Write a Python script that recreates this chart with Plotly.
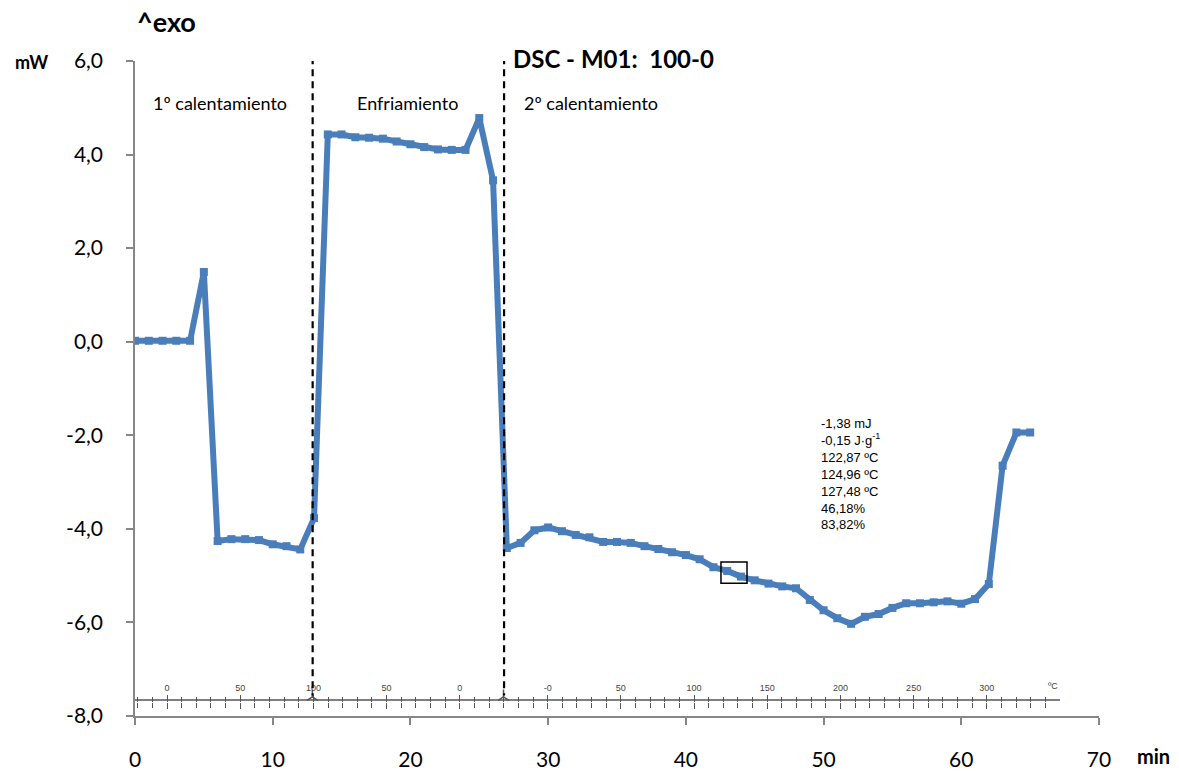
import plotly.graph_objects as go

#%% data
minutes = list(range(0, 66))
heat_flow = [0.02, 0.02, 0.02, 0.02, 0.02, 1.49, -4.26, -4.22, -4.22, -4.24,
             -4.33, -4.37, -4.44, -3.77, 4.43, 4.43, 4.37, 4.36, 4.34, 4.28,
             4.22, 4.16, 4.11, 4.10, 4.10, 4.78, 3.45, -4.41, -4.30, -4.03,
             -3.97, -4.05, -4.13, -4.18, -4.28, -4.28, -4.30, -4.37, -4.43, -4.50,
             -4.56, -4.65, -4.82, -4.90, -5.02, -5.10, -5.17, -5.23, -5.27, -5.52,
             -5.74, -5.91, -6.03, -5.88, -5.82, -5.69, -5.59, -5.59, -5.57, -5.55,
             -5.60, -5.50, -5.18, -2.65, -1.94, -1.94]

y_ticks = [6, 4, 2, 0, -2, -4, -6, -8]
y_ticktext = ['6,0', '4,0', '2,0', '0,0', '-2,0', '-4,0', '-6,0', '-8,0']
x_ticks = [0, 10, 20, 30, 40, 50, 60, 70]

# phase boundaries (min) and phase labels
phase_bounds = [12.9, 26.8]
phase_labels = ['1º calentamiento', 'Enfriamiento', '2º calentamiento']
phase_label_x = [6.2, 19.8, 33.1]

# temperature ruler: one step = 10 ºC
ruler_steps = [0, 5, 10, 15, 20, 26, 31, 36, 41, 46, 51, 56]
ruler_text = ['0', '50', '100', '50', '0', '-0', '50', '100', '150', '200', '250', '300']
ruler_minor_steps = list(range(-2, 61))

# integration results
results = ['-1,38 mJ', '-0,15 J·g<sup>-1</sup>', '122,87 ºC', '124,96 ºC',
           '127,48 ºC', '46,18%', '83,82%']
peak_box = dict(x0=42.55, x1=44.44, y0=-4.71, y1=-5.16)

#%% figure
W, H = 1179, 771
ML, MR, MT, MB = 135, 80, 61, 55
PW, PH = W - ML - MR, H - MT - MB
BLUE = '#4A7EBB'
AX = '#878787'
RULER = '#555555'

def paper_x(px):
    return (px - ML) / PW

def paper_y(py):
    return (H - MB - py) / PH

# ruler step <-> pixel: step 0 at 167 px, 14.64 px per step
ruler_range = [(ML - 167) / 14.64, (W - MR - 167) / 14.64]
ruler_y = -7.66

fig = go.Figure()
fig.add_trace(go.Scatter(
    x=minutes, y=heat_flow, mode='lines+markers',
    line=dict(color=BLUE, width=6),
    marker=dict(symbol='square', size=8, color=BLUE),
    showlegend=False, hoverinfo='skip',
))

bound_steps = [(ML + 13.75 * b - 167) / 14.64 for b in phase_bounds]
fig.add_trace(go.Scatter(
    x=bound_steps, y=[ruler_y + 0.07] * len(bound_steps), xaxis='x2', yaxis='y',
    mode='markers', marker=dict(symbol='y-up', size=9, color=RULER,
                                line=dict(color=RULER, width=1.5)),
    showlegend=False, hoverinfo='skip',
))
fig.add_trace(go.Scatter(
    x=[0], y=[ruler_y], xaxis='x3', yaxis='y', mode='markers',
    marker=dict(opacity=0), showlegend=False, hoverinfo='skip',
))

for b in phase_bounds:
    fig.add_shape(type='line', xref='x', yref='y', x0=b, x1=b, y0=6.08, y1=ruler_y + 0.1,
                  line=dict(color='black', width=2.2, dash='7px,5px'))
fig.add_shape(type='rect', xref='x', yref='y', line=dict(color='black', width=1.5),
              **peak_box)
# ruler baseline
fig.add_shape(type='line', xref='x2', yref='y', x0=ruler_range[0], x1=61, y0=ruler_y, y1=ruler_y,
              line=dict(color=RULER, width=1.5))

for lbl, lx in zip(phase_labels, phase_label_x):
    fig.add_annotation(x=lx, y=5.1, text=lbl, showarrow=False,
                       font=dict(family='Lato', size=18, color='black'))

def paper_text(px, py, text, size, family='Lato', color='black', xanchor='center'):
    fig.add_annotation(xref='paper', yref='paper', x=paper_x(px), y=paper_y(py),
                       text=text, showarrow=False, xanchor=xanchor, yanchor='middle',
                       font=dict(family=family, size=size, color=color))

paper_text(166, 22, '<b>^exo</b>', 27)
paper_text(511, 58, '<b>DSC - M01:  100-0</b>', 24, xanchor='left')
paper_text(31, 62, '<b>mW</b>', 18)
paper_text(1153, 756, '<b>min</b>', 20)
paper_text(1053, 686, 'ºC', 9, family='Liberation Sans', color='#444')

fig.add_annotation(x=49.7, y=-1.55, text='<br>'.join(results), showarrow=False,
                   xanchor='left', yanchor='top', align='left',
                   font=dict(family='Liberation Sans', size=13, color='black'))

ruler_pos = paper_y(702)
ruler_minor = dict(tickmode='array', tickvals=ruler_minor_steps, ticklen=5,
                   tickcolor=RULER, tickwidth=1.2)

fig.update_layout(
    width=W, height=H, margin=dict(l=ML, r=MR, t=MT, b=MB, autoexpand=False),
    plot_bgcolor='white', paper_bgcolor='white',
    font=dict(family='Lato', color='black'),
    xaxis=dict(range=[0, 70], tickvals=x_ticks, automargin=False,
               showgrid=False, zeroline=False, showline=True, linecolor=AX, linewidth=1.5,
               ticks='outside', ticklen=7, tickcolor=AX, tickwidth=1.5,
               tickfont=dict(size=21, color='black'), ticklabelstandoff=17),
    yaxis=dict(range=[-8, 6], tickvals=y_ticks, ticktext=y_ticktext, automargin=False,
               showgrid=False, zeroline=False, showline=True, linecolor=AX, linewidth=1.5,
               ticks='outside', ticklen=7, tickcolor=AX, tickwidth=1.5,
               tickfont=dict(size=21, color='black'), ticklabelstandoff=19),
    xaxis2=dict(overlaying='x', range=ruler_range, anchor='free', position=ruler_pos,
                side='top', tickvals=ruler_steps, ticktext=ruler_text, automargin=False,
                showgrid=False, zeroline=False, showline=False,
                ticks='outside', ticklen=7, tickcolor=RULER, tickwidth=1.2,
                minor=ruler_minor,
                tickfont=dict(family='Liberation Sans', size=9, color='#444')),
    xaxis3=dict(overlaying='x', range=ruler_range, anchor='free', position=ruler_pos,
                side='bottom', tickvals=ruler_steps, showticklabels=False, automargin=False,
                showgrid=False, zeroline=False, showline=False,
                ticks='outside', ticklen=6, tickcolor=RULER, tickwidth=1.2,
                minor=ruler_minor),
)

# page body keeps its default 8px margin otherwise
fig.write_html('out.html', config={'displayModeBar': False},
               post_script="document.body.style.margin='0';")
